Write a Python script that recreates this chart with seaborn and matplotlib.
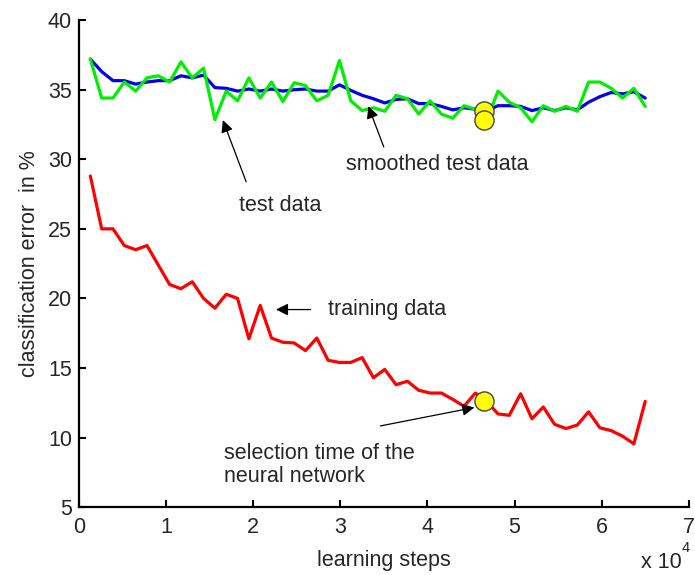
import numpy as np
import pandas as pd
import matplotlib
matplotlib.use("Agg")
import matplotlib.pyplot as plt
import seaborn as sns

# learning steps (in units of 10^4)
steps = [0.13, 0.26, 0.39, 0.52, 0.65, 0.78, 0.91, 1.04, 1.17, 1.30,
         1.43, 1.56, 1.69, 1.82, 1.95, 2.08, 2.21, 2.34, 2.47, 2.60,
         2.73, 2.86, 2.99, 3.12, 3.25, 3.38, 3.51, 3.64, 3.77, 3.90,
         4.03, 4.16, 4.29, 4.42, 4.55, 4.68, 4.81, 4.94, 5.07, 5.20,
         5.33, 5.46, 5.59, 5.72, 5.85, 5.98, 6.11, 6.24, 6.37, 6.50]

test_data = [37.2, 34.4, 34.4, 35.55, 34.9, 35.85, 36.0, 35.55, 37.0, 35.85,
             36.55, 32.85, 34.9, 34.2, 35.85, 34.4, 35.55, 34.15, 35.5, 35.3,
             34.2, 34.6, 37.1, 34.2, 33.5, 33.7, 33.45, 34.6, 34.35, 33.25,
             34.2, 33.25, 32.95, 33.85, 33.6, 32.8, 34.9, 34.1, 33.7, 32.7,
             33.85, 33.45, 33.8, 33.45, 35.55, 35.55, 35.1, 34.4, 35.1, 33.8]

smoothed_test = [37.2, 36.3, 35.65, 35.65, 35.4, 35.55, 35.65, 35.65, 36.0, 35.85,
                 36.05, 35.15, 35.1, 34.9, 35.05, 34.9, 35.05, 34.9, 35.0, 35.05,
                 34.9, 34.9, 35.35, 34.95, 34.6, 34.35, 34.05, 34.3, 34.35, 34.0,
                 34.0, 33.8, 33.55, 33.7, 33.6, 33.5, 33.85, 33.85, 33.8, 33.5,
                 33.7, 33.5, 33.7, 33.55, 34.1, 34.5, 34.8, 34.7, 34.85, 34.4]

training_data = [28.8, 25.0, 25.0, 23.8, 23.5, 23.8, 22.4, 21.0, 20.7, 21.2,
                 20.0, 19.3, 20.3, 20.0, 17.1, 19.5, 17.15, 16.85, 16.8, 16.25,
                 17.15, 15.55, 15.4, 15.4, 15.75, 14.3, 14.9, 13.8, 14.05, 13.4,
                 13.2, 13.2, 12.75, 12.25, 13.2, 12.6, 11.7, 11.6, 13.15, 11.35,
                 12.2, 10.95, 10.65, 10.9, 11.85, 10.7, 10.5, 10.1, 9.55, 12.6]

# selection time markers
sel_step = [4.65, 4.65, 4.65]
sel_value = [33.45, 32.8, 12.6]

x_ticks = [0, 1, 2, 3, 4, 5, 6, 7]
y_ticks = [5, 10, 15, 20, 25, 30, 35, 40]

sns.set_style("ticks")
plt.rcParams['font.family'] = ['Liberation Sans', 'DejaVu Sans']
plt.rcParams['xtick.direction'] = 'in'
plt.rcParams['ytick.direction'] = 'in'

df = pd.DataFrame({
    "step": steps * 3,
    "error": test_data + smoothed_test + training_data,
    "series": ["test"] * len(steps) + ["smoothed"] * len(steps) + ["training"] * len(steps),
})

fig = plt.figure(figsize=(6.95, 5.75), dpi=100)
ax = fig.add_axes([0.1137, 0.118, 0.8773, 0.847])

sns.lineplot(data=df, x="step", y="error", hue="series",
             palette={"test": "#00ee00", "smoothed": "#0000ee", "training": "#ff0000"},
             hue_order=["smoothed", "test", "training"],
             linewidth=2.3, legend=False, ax=ax, sort=False)
ax.lines[0].set_zorder(2)
ax.lines[1].set_zorder(3)

sns.scatterplot(x=sel_step, y=sel_value, s=190, color="#ffff00",
                edgecolor="#444444", linewidth=1.0, zorder=5, ax=ax, legend=False)

ax.set_xlim(0, 7)
ax.set_ylim(5, 40)
ax.set_xticks(x_ticks)
ax.set_yticks(y_ticks)
ax.tick_params(labelsize=15.5, length=5, width=1.5, color="black")
ax.tick_params(axis="x", pad=7)
ax.tick_params(axis="y", pad=5)
for s in ["top", "right"]:
    ax.spines[s].set_visible(False)
for s in ["left", "bottom"]:
    ax.spines[s].set_linewidth(1.6)
    ax.spines[s].set_color("black")

ax.set_xlabel("learning steps", fontsize=15.5, labelpad=9)
ax.set_ylabel("classification error  in %", fontsize=15.5, labelpad=6)
fig.text(641 / 695, 1 - 568 / 575, "x 10", fontsize=15.5, ha="left", va="baseline")
fig.text(682 / 695, 1 - 552 / 575, "4", fontsize=10.5, ha="left", va="baseline")

fs = 15.5
arr = dict(arrowstyle="-|>", color="black", lw=0.9, mutation_scale=18)
ax.annotate("", xy=(1.64, 33.0), xytext=(1.93, 28.2), arrowprops=arr)
ax.text(2.31, 26.7, "test data", fontsize=fs, ha="center", va="center")
ax.annotate("", xy=(3.31, 34.0), xytext=(3.51, 30.7), arrowprops=arr)
ax.text(4.11, 29.6, "smoothed test data", fontsize=fs, ha="center", va="center")
ax.annotate("", xy=(2.23, 19.2), xytext=(2.69, 19.2), arrowprops=arr)
ax.text(2.86, 19.2, "training data", fontsize=fs, ha="left", va="center")
ax.annotate("", xy=(4.57, 12.2), xytext=(3.43, 10.8), arrowprops=arr)
ax.text(1.665, 8.05, "selection time of the\nneural network", fontsize=fs,
        ha="left", va="center", linespacing=1.15)

fig.savefig("out.png", dpi=100)
